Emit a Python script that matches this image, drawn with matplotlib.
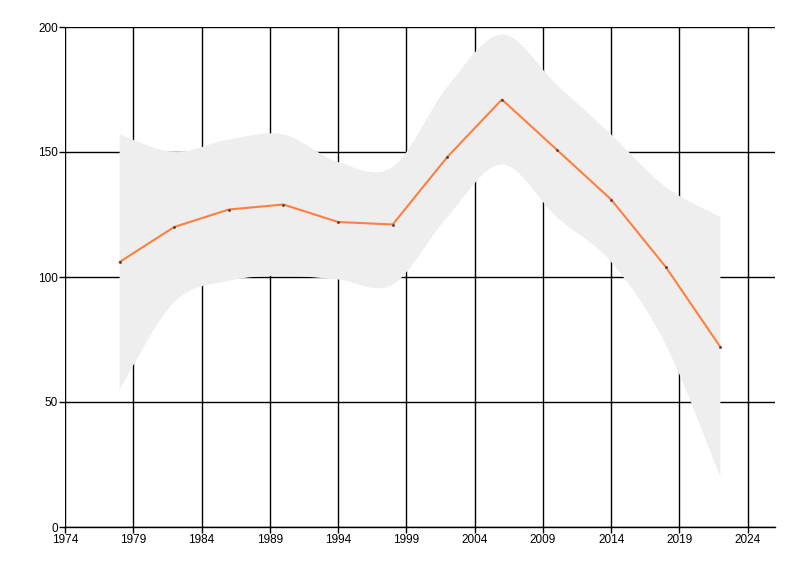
import matplotlib
matplotlib.use('Agg')
import matplotlib.pyplot as plt
from matplotlib.path import Path
from matplotlib.patches import PathPatch
import numpy as np

years = [1978, 1982, 1986, 1990, 1994, 1998, 2002, 2006, 2010, 2014, 2018, 2022]
values = [106, 120, 127, 129, 122, 121, 148, 171, 151, 131, 104, 72]
upper = [157, 150, 155, 157, 146, 144, 176, 197, 177, 157, 136, 124]
lower = [55, 90, 98.5, 100.5, 99, 97, 124, 145, 124, 106, 73, 20]

xticks = [1974, 1979, 1984, 1989, 1994, 1999, 2004, 2009, 2014, 2019, 2024]
yticks = [0, 50, 100, 150, 200]

plt.rcParams['font.family'] = ['Liberation Sans', 'DejaVu Sans']


def smooth_segments(xs, ys):
    # catmull-rom -> cubic bezier control points
    pts = np.column_stack([xs, ys]).astype(float)
    n = len(pts)
    verts = []
    for i in range(n - 1):
        p0 = pts[i - 1] if i > 0 else pts[i]
        p1 = pts[i]
        p2 = pts[i + 1]
        p3 = pts[i + 2] if i + 2 < n else pts[i + 1]
        c1 = p1 + (p2 - p0) / 6.0
        c2 = p2 - (p3 - p1) / 6.0
        verts += [tuple(c1), tuple(c2), tuple(p2)]
    return verts


fig = plt.figure(figsize=(8, 5.76), dpi=100)
ax = fig.add_axes([65/800, 49/576, 710/800, 500/576])

# band
up = smooth_segments(years, upper)
lo = smooth_segments(years[::-1], lower[::-1])
verts = [(years[0], upper[0])] + up + [(years[-1], lower[-1])] + lo + [(years[0], upper[0])]
codes = [Path.MOVETO] + [Path.CURVE4] * len(up) + [Path.LINETO] + [Path.CURVE4] * len(lo) + [Path.CLOSEPOLY]
band = PathPatch(Path(verts, codes), facecolor='#eeeeee', edgecolor='none', zorder=2)
ax.add_patch(band)

ax.plot(years, values, color='#ff7f3f', linewidth=1.5, zorder=3)
ax.plot(years, values, linestyle='none', marker='o', markersize=1.5, markeredgewidth=0.5, color='#444444', zorder=4)

ax.set_xlim(1974, 2026)
ax.set_ylim(0, 200)
ax.set_xticks(xticks)
ax.set_yticks(yticks)
ax.grid(True, color='black', linewidth=1.0, zorder=1)
ax.set_axisbelow(True)

for s in ['top', 'right']:
    ax.spines[s].set_visible(False)
ax.spines['left'].set_visible(False)
ax.spines['bottom'].set_linewidth(1.0)
ax.spines['bottom'].set_zorder(5)
ax.tick_params(length=4, width=1.0, labelsize=8.5, pad=1, color='black')

fig.savefig('out.png', dpi=100)
